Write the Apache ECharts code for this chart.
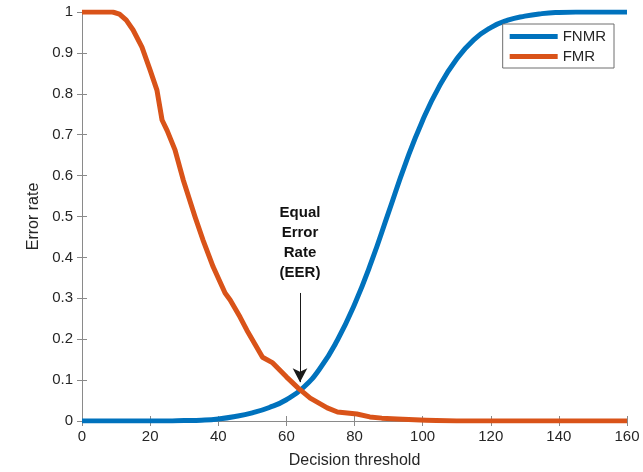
<!DOCTYPE html>
<html>
<head>
<meta charset="utf-8">
<script src="https://cdn.jsdelivr.net/npm/echarts@6/dist/echarts.min.js"></script>
<style>
  html, body { margin: 0; padding: 0; background: #fff; }
  #main { width: 643px; height: 472px; }
</style>
</head>
<body>
<div id="main"></div>
<script>
// 阈值与错误率
var fnmrX = [0, 5, 10, 15, 20, 25, 30, 35, 40, 45, 50, 55, 60, 65, 70, 75, 80, 85, 90, 95, 100, 105, 110, 115, 120, 125, 130, 135, 140, 145, 150, 155, 160];
var fnmrY = [0, 0, 0, 0, 0, 0, 0.001, 0.002, 0.005, 0.011, 0.02, 0.033, 0.052, 0.082, 0.13, 0.198, 0.285, 0.39, 0.51, 0.63, 0.735, 0.82, 0.885, 0.932, 0.962, 0.98, 0.99, 0.996, 0.999, 1, 1, 1, 1];

var fmrX = [0, 5, 9, 11, 13, 15, 17.6, 20, 22, 23.5, 25, 27.3, 29.7, 33.2, 35.5, 38.5, 42, 43.5, 46.4, 48.4, 53, 56, 60, 63.4, 67, 72, 75, 80.7, 84.5, 88, 92.5, 101, 110, 160];
var fmrY = [1, 1, 1, 0.995, 0.98, 0.956, 0.914, 0.858, 0.809, 0.736, 0.71, 0.663, 0.59, 0.499, 0.443, 0.377, 0.313, 0.296, 0.254, 0.222, 0.156, 0.142, 0.108, 0.081, 0.056, 0.032, 0.022, 0.017, 0.01, 0.007, 0.005, 0.002, 0, 0];

// EER 箭头（数据坐标）
var eerX = 64;
var eerTop = 0.313;
var eerBottom = 0.095;

function pairs(xs, ys) {
  var out = [];
  for (var i = 0; i < xs.length; i++) out.push([xs[i], ys[i]]);
  return out;
}

var myChart = echarts.init(document.getElementById("main"));

var axisGrey = "#8a8a8a";
var txt = "#262626";
var fontName = "Liberation Sans, Arial, sans-serif";

var option = {
  animation: false,
  textStyle: { fontFamily: fontName },
  grid: { left: 82, right: 16, top: 12, bottom: 51, outerBoundsMode: "none" },
  legend: {
    orient: "vertical",
    right: 29,
    top: 24,
    itemWidth: 48,
    itemHeight: 5,
    itemGap: 5,
    padding: [5, 8, 4, 7],
    icon: "rect",
    backgroundColor: "#fff",
    borderColor: "#6f6f6f",
    borderWidth: 1,
    textStyle: { fontSize: 15, color: txt, fontFamily: fontName },
    data: ["FNMR", "FMR"],
  },
  xAxis: [
    {
      type: "value",
      min: 0,
      max: 160,
      interval: 20,
      name: "Decision threshold",
      nameLocation: "middle",
      nameGap: 32,
      nameTextStyle: { fontSize: 16, color: txt },
      axisLine: { lineStyle: { color: axisGrey } },
      axisTick: { inside: true, length: 5, lineStyle: { color: axisGrey } },
      axisLabel: { fontSize: 15, color: txt, margin: 8 },
      splitLine: { show: false },
    },
    {
      type: "value",
      position: "top",
      min: 0,
      max: 160,
      interval: 20,
      axisLine: { show: true, lineStyle: { color: axisGrey } },
      axisTick: { inside: true, length: 5, lineStyle: { color: axisGrey } },
      axisLabel: { show: false },
      splitLine: { show: false },
    },
  ],
  yAxis: [
    {
      type: "value",
      min: 0,
      max: 1,
      interval: 0.1,
      name: "Error rate",
      nameLocation: "middle",
      nameGap: 38,
      nameTextStyle: { fontSize: 16, color: txt },
      axisLine: { show: true, lineStyle: { color: axisGrey } },
      axisTick: { show: true, inside: true, length: 5, lineStyle: { color: axisGrey } },
      axisLabel: { fontSize: 15, color: txt, margin: 9 },
      splitLine: { show: false },
    },
    {
      type: "value",
      position: "right",
      min: 0,
      max: 1,
      interval: 0.1,
      axisLine: { show: true, lineStyle: { color: axisGrey } },
      axisTick: { show: true, inside: true, length: 5, lineStyle: { color: axisGrey } },
      axisLabel: { show: false },
      splitLine: { show: false },
    },
  ],
  series: [
    {
      name: "FNMR",
      type: "line",
      data: pairs(fnmrX, fnmrY),
      smooth: true,
      showSymbol: false,
      color: "#0072BD",
      lineStyle: { width: 5, color: "#0072BD" },
      z: 2,
    },
    {
      name: "FMR",
      type: "line",
      data: pairs(fmrX, fmrY),
      showSymbol: false,
      color: "#D95319",
      lineStyle: { width: 5, color: "#D95319", join: "round" },
      z: 3,
      markLine: {
        silent: true,
        symbol: ["none", "arrow"],
        symbolSize: [11, 14],
        lineStyle: { color: "#1a1a1a", width: 1, type: "solid" },
        label: { show: false },
        data: [[{ coord: [eerX, eerTop] }, { coord: [eerX, eerBottom] }]],
      },
      markPoint: {
        silent: true,
        symbol: "circle",
        symbolSize: 0,
        label: {
          show: true,
          position: "top",
          distance: 10,
          formatter: "Equal\nError\nRate\n(EER)",
          fontSize: 15,
          fontWeight: "bold",
          lineHeight: 20,
          color: "#111",
          fontFamily: fontName,
        },
        data: [{ coord: [eerX, eerTop] }],
      },
    },
  ],
};

myChart.setOption(option);
</script>
</body>
</html>
